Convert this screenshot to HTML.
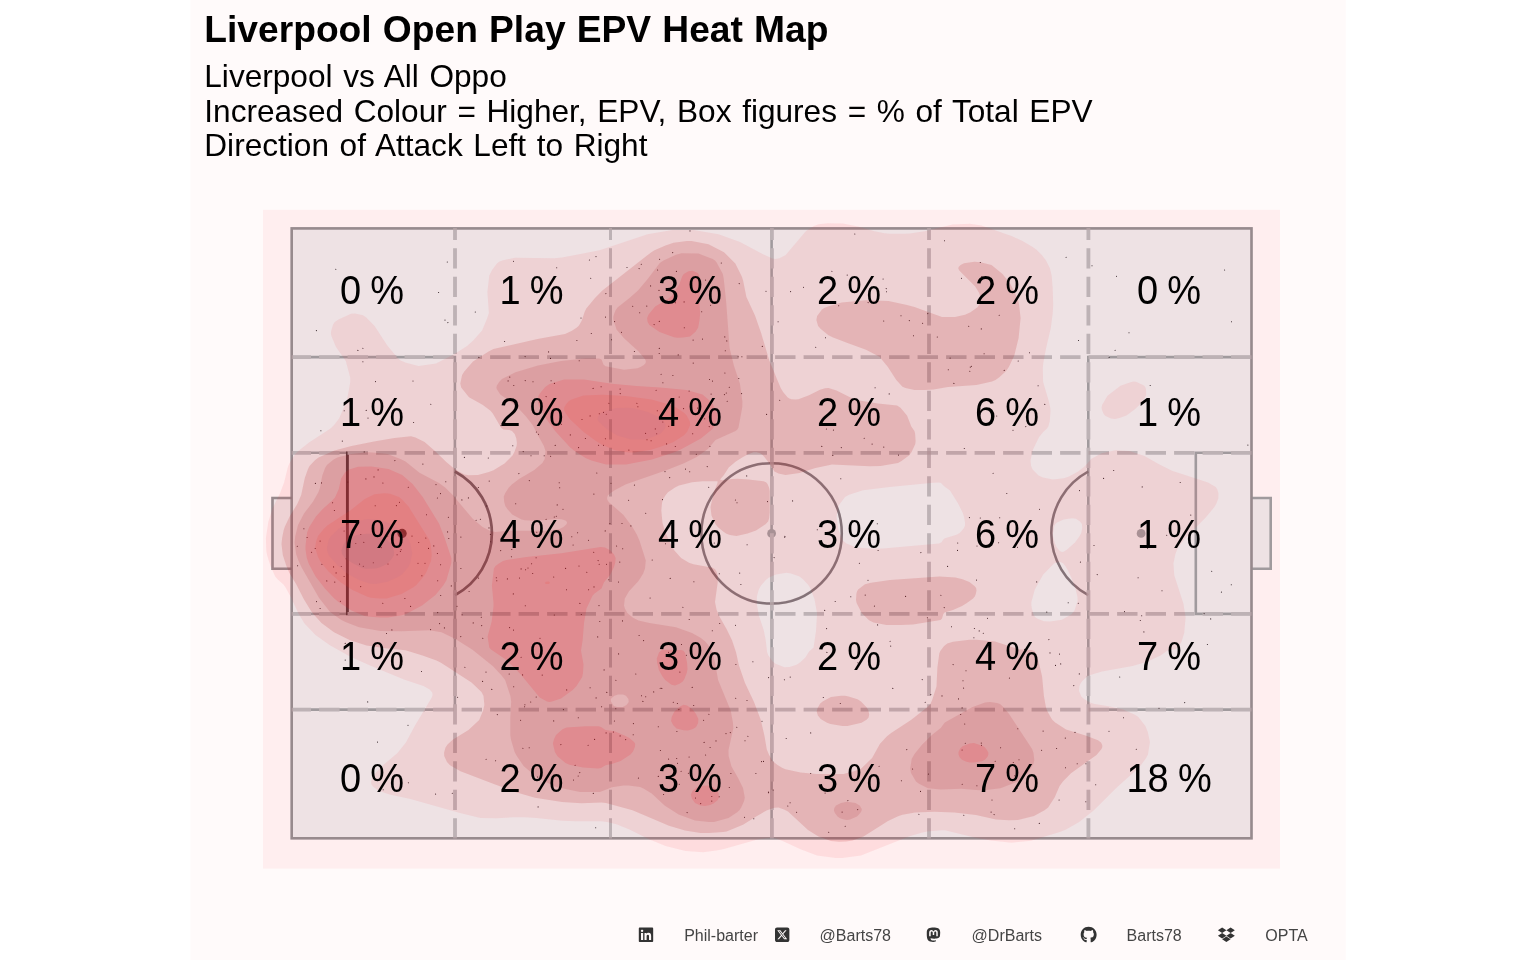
<!DOCTYPE html>
<html lang="en"><head><meta charset="utf-8"><title>Liverpool Open Play EPV Heat Map</title>
<style>html,body{margin:0;padding:0;background:#fff}body{width:1536px;height:960px;overflow:hidden}svg{display:block}text{font-family:"Liberation Sans",sans-serif}</style></head><body>
<svg width="1536" height="960" viewBox="0 0 1536 960">
<rect x="190.4" y="0" width="1155.3" height="960" fill="#fffafa"/>
<rect x="263" y="209.8" width="1017" height="658.8" fill="#ffeeef"/>
<rect x="291.7" y="228.4" width="959.8" height="609.9" fill="#eee2e4"/>
<rect x="272.5" y="498.0" width="19.2" height="70.7" fill="#eee2e4"/>
<rect x="1251.5" y="498.0" width="19.2" height="70.7" fill="#eee2e4"/>
<g fill="none" stroke="#a09a9d" stroke-width="2.6">
<rect x="291.7" y="228.4" width="959.8" height="609.9"/>
<path d="M291.7 498.0H272.5V568.7H291.7"/>
<path d="M1251.5 498.0H1270.7V568.7H1251.5"/>
<path d="M291.7 357.1H454.9V709.6H291.7"/>
<path d="M1251.5 357.1H1088.3V709.6H1251.5"/>
<path d="M1251.5 452.8H1195.8V613.9H1251.5"/>
<path d="M771.6 228.4V838.3"/>
</g>
<g fill="none" stroke="#7b6b71" stroke-width="2.7">
<circle cx="771.6" cy="533.4" r="70.2" stroke="#8a8085" stroke-width="2.5"/>
<path d="M454.9 471.5A70.2 70.2 0 0 1 454.9 595.2"/>
<path d="M1088.3 471.5A70.2 70.2 0 0 0 1088.3 595.2" stroke="#8a8085" stroke-width="2.5"/>
</g>
<path d="M291.7 452.8H347.4M347.4 613.9H291.7" fill="none" stroke="#a09a9d" stroke-width="2.6"/>
<path d="M347.4 451.5V615.2" fill="none" stroke="#463c40" stroke-width="2.9"/>
<circle cx="402.1" cy="533.4" r="4.6" fill="#463c40"/>
<circle cx="1141.1" cy="533.4" r="4.4" fill="#a09a9d"/>
<circle cx="771.6" cy="533.4" r="4.4" fill="#a09a9d"/>
<g fill="none" stroke="#cac5c7" stroke-width="3.8" stroke-dasharray="20.4 8.1">
<path d="M455.0 838.5999999999999V228.0"/>
<path d="M610.5 838.5999999999999V228.0" stroke-width="3"/>
<path d="M771.9 838.5999999999999V228.0"/>
<path d="M929.0 838.5999999999999V228.0"/>
<path d="M1088.4 838.5999999999999V228.0"/>
<path d="M1251.5 357.1H291.7"/>
<path d="M1251.5 452.8H291.7"/>
<path d="M1251.5 613.9H291.7"/>
<path d="M1251.5 709.6H291.7"/>
</g>
<path d="M657.6 270.0h0M489.0 527.9h0M557.2 504.9h0M690.0 230.9h0M1207.4 644.5h0M588.6 589.7h0M745.0 740.8h0M603.5 412.4h0M1059.1 800.0h0M1055.5 665.4h0M346.1 558.7h0M1085.8 801.7h0M513.5 630.1h0M507.4 578.9h0M1041.6 750.2h0M981.3 743.1h0M1066.1 257.2h0M639.1 268.6h0M315.2 548.5h0M701.7 311.7h0M408.4 782.8h0M693.1 340.1h0M515.7 503.8h0M773.2 790.0h0M974.4 628.5h0M735.4 500.0h0M524.6 706.8h0M590.1 687.7h0M730.9 773.5h0M826.4 429.0h0M578.2 776.0h0M635.8 674.0h0M447.3 262.0h0M1190.8 515.1h0M480.4 519.3h0M1147.6 548.3h0M922.2 679.6h0M1095.7 784.7h0M320.1 541.1h0M520.6 720.3h0M675.3 446.5h0M826.6 628.6h0M872.1 444.1h0M531.0 455.8h0M662.9 382.7h0M686.4 655.2h0M412.0 536.1h0M378.1 469.9h0M961.5 278.2h0M645.7 513.2h0M404.9 598.5h0M509.8 377.1h0M710.6 305.2h0M391.9 629.9h0M447.6 531.9h0M962.1 750.0h0M991.1 812.1h0M786.2 738.5h0M307.1 537.5h0M373.3 562.7h0M1204.1 613.6h0M995.2 761.3h0M345.2 660.1h0M365.9 478.9h0M447.9 322.6h0M1077.2 763.7h0M611.0 483.3h0M585.4 438.5h0M437.7 612.6h0M524.9 704.8h0M962.2 784.2h0M440.6 564.7h0M659.6 259.2h0M522.6 674.9h0M606.5 564.2h0M601.6 706.7h0M1065.5 767.8h0M360.7 586.6h0M763.5 761.4h0M425.8 538.0h0M1024.6 649.4h0M647.0 439.7h0M482.8 638.2h0M668.6 759.1h0M355.8 543.5h0M513.5 261.3h0M579.0 566.0h0M762.0 721.3h0M1038.1 385.7h0M540.0 638.2h0M724.9 373.0h0M598.6 445.2h0M1080.4 562.1h0M566.5 589.8h0M1060.7 663.9h0M673.3 702.3h0M588.5 540.3h0M684.3 327.7h0M1029.5 352.8h0M963.0 680.7h0M536.1 557.8h0M920.9 552.6h0M688.4 773.2h0M650.6 285.9h0M984.1 353.8h0M345.2 643.4h0M658.3 726.7h0M675.5 302.8h0M457.6 697.2h0M437.4 498.0h0M815.7 347.3h0M831.9 271.3h0M898.5 455.1h0M491.8 689.4h0M826.9 652.4h0M692.2 687.4h0M906.8 749.6h0M854.8 234.0h0M375.5 381.6h0M864.2 438.3h0M1018.2 361.0h0M656.7 433.8h0M315.4 483.4h0M408.0 725.2h0M703.6 720.2h0M490.7 541.8h0M942.0 695.9h0M960.7 714.5h0M326.8 580.9h0M790.6 291.6h0M316.4 330.6h0M878.1 550.5h0M650.1 598.0h0M581.3 614.5h0M542.2 675.1h0M1116.5 276.2h0M833.4 650.0h0M676.7 758.5h0M620.1 389.0h0M969.8 371.2h0M637.9 406.8h0M730.3 732.6h0M1017.5 547.3h0M668.7 426.3h0M692.7 433.8h0M712.3 767.1h0M475.3 312.0h0M382.8 603.3h0M1180.2 482.5h0M413.6 422.5h0M383.2 789.8h0M747.9 736.3h0M832.8 455.4h0M838.7 305.8h0M1247.9 445.1h0M418.7 542.5h0M992.0 800.0h0M596.1 697.9h0M784.7 537.2h0M1059.5 654.1h0M613.4 732.0h0M890.7 646.1h0M681.1 771.2h0M968.7 326.2h0M727.2 401.2h0M920.5 791.4h0M1085.9 763.8h0M661.8 688.4h0M604.1 669.9h0M560.9 744.6h0M652.2 560.0h0M554.3 517.0h0M561.4 424.3h0M944.2 607.6h0M529.3 480.6h0M508.1 380.9h0M687.1 812.6h0M778.1 321.7h0M399.5 502.2h0M593.9 494.1h0M726.0 733.6h0M709.9 446.2h0M655.3 428.9h0M957.5 550.4h0M1014.7 775.8h0M842.1 812.1h0M334.8 582.1h0M874.4 606.1h0M672.9 375.5h0M726.8 340.9h0M1141.7 615.8h0M970.3 367.1h0M653.7 691.9h0M341.3 566.5h0M651.1 440.8h0M428.5 548.4h0M342.3 441.1h0M682.9 607.2h0M551.1 380.8h0M445.0 320.1h0M375.2 505.7h0M665.5 543.7h0M662.8 422.0h0M1143.9 631.9h0M666.6 443.9h0M335.8 269.2h0M1231.5 321.8h0M586.8 572.3h0M999.7 517.8h0M1124.5 611.6h0M676.4 271.4h0M736.8 727.2h0M408.3 487.3h0M596.8 473.0h0M579.2 360.7h0M496.8 580.8h0M735.9 664.5h0M828.7 832.3h0M563.0 509.3h0M951.5 626.8h0M440.7 595.5h0M980.3 518.0h0M486.1 759.3h0M421.5 671.5h0M575.1 765.3h0M460.9 568.5h0M368.0 418.1h0M601.1 386.8h0M362.9 361.8h0M790.1 802.7h0M401.1 549.6h0M628.6 500.3h0M739.2 283.6h0M422.9 464.1h0M739.7 573.1h0M1068.2 602.8h0M796.6 812.3h0M659.3 348.4h0M519.5 578.0h0M521.1 657.3h0M521.1 568.9h0M320.1 608.5h0M993.1 473.3h0M561.7 537.8h0M683.6 408.6h0M554.3 615.0h0M596.0 256.6h0M738.1 356.8h0M344.2 410.7h0M695.5 798.0h0M999.2 315.2h0M685.5 469.1h0M535.9 764.4h0M963.8 815.3h0M482.6 681.4h0M724.4 394.6h0M565.6 568.4h0M966.0 670.8h0M439.6 623.6h0M1150.2 385.5h0M571.8 536.8h0M980.3 262.5h0M767.5 501.6h0M529.2 747.7h0M659.0 290.4h0M448.4 517.2h0M922.6 323.2h0M1079.5 490.6h0M503.7 767.8h0M606.3 414.3h0M709.2 426.6h0M452.3 793.3h0M486.8 505.9h0M669.7 477.6h0M643.6 640.6h0M433.8 545.9h0M689.7 471.7h0M504.6 341.5h0M500.7 550.6h0M573.1 545.0h0M913.5 335.8h0M367.7 701.9h0M979.2 630.9h0M762.3 346.4h0M930.8 694.6h0M766.0 291.3h0M359.6 564.1h0M616.6 546.0h0M553.7 577.0h0M620.1 735.9h0M615.8 708.7h0M1039.3 823.4h0M645.6 433.4h0M957.7 543.0h0M857.9 662.7h0M729.3 387.3h0M886.5 291.7h0M609.9 523.5h0M990.1 290.8h0M981.5 745.2h0M532.7 573.5h0M531.6 563.8h0M481.7 625.6h0M927.8 313.6h0M625.7 739.6h0M615.9 680.2h0M599.2 564.3h0M865.2 595.1h0M738.8 378.5h0M579.8 772.6h0M755.9 773.5h0M719.2 796.8h0M619.8 562.1h0M606.8 692.4h0M490.4 534.4h0M735.5 625.2h0M410.6 606.4h0M1113.7 470.5h0M622.7 548.7h0M950.1 358.1h0M377.5 742.1h0M659.2 353.5h0M603.5 445.3h0M965.3 743.3h0M1115.1 350.2h0M478.6 578.1h0M445.8 481.8h0M905.6 596.4h0M841.3 447.6h0M658.3 776.4h0M1159.0 708.2h0M530.7 702.0h0M976.5 580.1h0M618.5 582.0h0M641.5 695.7h0M709.5 379.5h0M679.2 397.0h0M998.6 542.8h0M605.9 293.6h0M1162.0 590.7h0M344.1 531.0h0M473.2 622.9h0M548.6 351.9h0M976.9 785.7h0M944.5 240.8h0M513.8 385.5h0M397.1 554.7h0M710.1 747.5h0M536.8 532.2h0M852.1 520.5h0M705.6 755.0h0M469.1 591.5h0M890.1 641.2h0M594.0 586.9h0M1079.3 673.9h0M670.2 578.4h0M868.1 302.6h0M488.3 458.0h0M511.8 549.5h0M725.3 350.7h0M513.7 686.7h0M696.3 454.3h0M581.0 318.0h0M996.7 416.0h0M639.1 635.5h0M909.3 320.6h0M1109.1 357.5h0M605.4 438.8h0M430.6 629.6h0M1009.4 678.1h0M360.8 534.5h0M536.4 432.0h0M525.1 356.6h0M833.4 430.1h0M645.7 696.7h0M660.2 688.3h0M707.2 466.6h0M642.9 701.4h0M460.9 537.1h0M578.3 717.8h0M875.1 387.7h0M768.6 792.8h0M719.3 573.8h0M678.9 709.6h0M437.4 553.5h0M711.1 394.1h0M333.6 566.9h0M719.7 623.5h0M981.3 328.9h0M464.9 667.3h0M605.2 530.9h0M546.1 519.2h0M438.6 292.5h0M512.8 445.8h0M421.9 575.7h0M630.9 525.9h0M316.5 601.6h0M1004.2 370.4h0M1017.8 728.7h0M689.1 391.1h0M701.9 415.5h0M1094.0 545.5h0M608.8 579.7h0M790.2 677.1h0M1221.4 592.1h0M638.4 778.1h0M741.6 393.6h0M457.0 606.3h0M591.3 333.5h0M753.8 818.8h0M525.6 569.7h0M595.7 827.7h0M349.4 522.0h0M563.4 709.6h0M937.3 337.0h0M559.7 487.8h0M656.1 390.2h0M892.8 688.4h0M578.6 447.6h0M737.0 502.8h0M468.4 497.9h0M689.1 757.0h0M364.2 451.9h0M1097.2 574.6h0M883.8 447.1h0M721.3 263.0h0M486.0 672.1h0M1017.2 788.2h0M382.9 483.0h0M1065.3 738.1h0M947.6 566.4h0M747.0 700.5h0M1211.7 571.3h0M363.3 566.3h0M550.6 456.2h0M704.7 418.7h0M634.4 485.1h0M1184.7 702.6h0M824.7 610.4h0M611.5 339.8h0M702.5 339.1h0M726.3 393.0h0M704.1 742.4h0M627.0 267.5h0M1039.5 509.3h0M662.5 499.6h0M823.3 697.5h0M1014.7 828.8h0M387.7 536.1h0M522.9 748.2h0M451.3 585.9h0M768.6 677.6h0M681.5 644.5h0M1073.8 685.6h0M741.9 356.8h0M879.1 766.3h0M518.9 473.6h0M953.9 383.4h0M590.1 415.9h0M1044.8 404.4h0M533.0 381.8h0M994.1 814.6h0M1142.2 486.9h0M1036.7 581.9h0M928.4 774.1h0M847.2 275.1h0M538.1 806.9h0M1210.7 618.9h0M713.7 775.4h0M413.0 381.0h0M940.9 595.3h0M724.8 336.9h0M761.5 761.6h0M708.9 714.3h0M344.1 576.5h0M1129.0 332.7h0M536.2 697.0h0M1138.1 577.8h0M633.4 723.6h0M460.8 636.6h0M714.3 543.0h0M594.6 739.4h0M693.9 581.7h0M646.8 306.1h0M840.3 703.5h0M394.9 460.6h0M1119.7 677.0h0M1043.1 731.1h0M901.0 315.8h0M476.1 520.3h0M660.4 750.5h0M787.8 806.0h0M559.2 482.7h0M1019.0 759.8h0M689.2 619.5h0M716.0 740.9h0M555.2 445.4h0M1166.7 535.3h0M886.2 288.6h0M400.4 551.4h0M525.2 380.6h0M1123.5 717.8h0M948.3 369.8h0M582.0 419.5h0M546.1 396.6h0M1103.6 478.4h0M332.6 502.8h0M374.0 476.9h0M779.7 400.3h0M825.5 337.7h0M774.1 557.6h0M297.3 546.2h0M850.8 596.8h0M711.8 796.5h0M618.6 653.9h0M550.5 358.4h0M478.4 487.5h0M554.4 383.4h0M303.9 528.8h0M444.4 627.9h0M821.8 446.4h0M693.7 705.5h0M590.7 278.2h0M810.7 773.5h0M436.0 484.6h0M679.3 784.2h0M993.1 284.4h0M497.3 714.6h0M448.8 538.5h0M659.3 321.4h0M1000.6 747.8h0M509.6 627.6h0M1136.3 749.2h0M593.1 388.4h0M712.5 381.1h0M336.1 572.9h0M1025.8 426.6h0M556.3 516.3h0M964.3 448.5h0M784.9 536.4h0M1006.8 493.5h0M430.8 404.3h0M599.0 605.6h0M1092.0 265.8h0M513.3 593.9h0M792.6 500.9h0M1013.0 791.8h0M311.6 552.2h0M877.3 523.8h0M390.9 528.5h0M537.5 777.0h0M963.6 688.1h0M340.4 601.2h0M663.6 794.5h0M1075.0 732.4h0M711.8 801.1h0M598.1 560.6h0M544.2 455.7h0M964.7 724.0h0M597.7 636.9h0M672.7 252.6h0M918.9 814.2h0M489.2 481.1h0M553.2 423.0h0M538.5 434.3h0M622.0 523.5h0M746.7 475.9h0M971.5 366.3h0M511.4 556.8h0M925.2 702.2h0M418.0 563.3h0M641.3 264.2h0M657.3 410.8h0M981.8 276.6h0M744.5 817.3h0M693.2 363.1h0M857.7 809.6h0M628.9 450.1h0M665.0 471.6h0M784.4 679.8h0M678.2 354.9h0M297.6 565.7h0M684.1 301.9h0M766.6 414.4h0M677.4 703.5h0M633.2 734.7h0M605.5 317.1h0M983.3 633.2h0M440.5 493.6h0M426.5 514.7h0M437.7 580.7h0M570.3 434.9h0M366.2 410.4h0M1078.3 603.2h0M768.4 792.0h0M588.1 745.2h0M541.2 281.5h0M481.3 617.2h0M987.5 618.2h0M362.9 348.2h0M435.6 794.1h0M363.8 542.4h0M599.3 413.8h0M901.4 780.7h0M679.9 672.1h0M700.7 803.6h0M962.1 707.9h0M632.7 306.2h0M1224.6 270.0h0M912.6 769.0h0M639.7 312.8h0M676.9 731.5h0M810.7 732.9h0M953.1 664.6h0M347.8 482.1h0M977.0 546.0h0M593.3 793.4h0M803.5 287.2h0M495.6 760.7h0M708.7 487.2h0M351.6 532.2h0M1140.3 620.5h0M661.1 374.2h0M868.0 580.2h0M705.6 280.1h0M712.3 630.7h0M883.7 321.0h0M1013.0 430.2h0M523.2 451.6h0M622.5 620.9h0M889.2 393.9h0M1056.6 748.5h0M740.9 584.5h0M697.5 408.1h0M579.9 603.4h0M464.4 457.4h0M883.1 279.0h0M1013.3 762.5h0M599.8 621.5h0M825.1 793.1h0M958.5 698.9h0M1009.9 279.0h0M357.9 350.4h0M576.9 340.5h0M614.6 321.6h0M1050.0 652.9h0M747.1 544.8h0M334.4 510.5h0M973.9 637.7h0M1109.0 731.2h0M729.3 787.5h0M388.0 564.0h0M969.4 517.6h0M608.9 403.3h0M877.6 624.9h0M677.5 763.2h0M321.5 482.9h0M577.6 532.7h0M320.9 430.7h0M461.9 499.9h0M1048.9 639.6h0M668.5 652.2h0M654.1 324.6h0M621.5 332.3h0M462.1 614.8h0M845.2 826.3h0M660.5 538.8h0M606.1 732.9h0M556.7 267.8h0M1046.8 612.1h0M478.9 357.4h0M501.0 425.6h0M566.7 689.9h0M509.2 674.0h0M847.9 800.6h0M927.4 617.8h0M396.4 505.6h0M528.0 568.0h0M859.4 563.3h0M525.3 605.7h0M817.3 529.7h0M553.7 720.9h0M636.9 403.3h0M386.5 633.5h0M496.3 577.8h0M1231.3 584.8h0M321.9 564.3h0M1078.5 340.5h0M752.9 661.7h0M573.5 780.0h0M634.4 351.5h0M840.8 478.7h0M589.4 260.0h0M620.2 393.6h0M425.0 563.3h0M735.7 698.3h0M381.4 547.6h0M835.2 601.5h0M614.4 721.0h0M593.7 552.2h0" stroke="#2a1c20" stroke-width="1.1" stroke-linecap="round" fill="none"/>
<defs><clipPath id="panelclip"><rect x="263" y="209.8" width="1017" height="658.8"/></clipPath></defs><g clip-path="url(#panelclip)">
<path fill="#f8424e" fill-opacity="0.1" fill-rule="evenodd" d="M842.5 858.0L835.5 858.1L817.0 855.6L800.5 849.2L781.5 840.4L775.0 838.0L771.5 837.4L757.5 839.4L724.0 848.9L716.5 850.4L703.0 852.3L685.5 851.0L665.5 845.9L648.5 839.1L629.5 829.4L616.5 824.2L607.0 821.9L601.5 821.3L576.0 821.2L562.5 820.7L536.5 817.9L525.0 817.3L513.5 817.3L497.0 818.2L480.5 817.9L460.0 813.0L410.5 798.9L389.5 794.5L378.5 790.7L373.0 786.5L371.5 784.5L371.1 782.5L371.6 779.0L373.0 775.8L383.5 764.8L397.5 753.0L405.9 742.5L415.3 725.0L431.8 697.5L432.6 695.0L432.2 692.5L429.7 689.5L423.5 685.9L404.0 679.4L369.5 665.2L350.0 656.5L329.5 645.0L315.5 635.0L304.5 623.6L298.2 613.0L291.1 597.5L285.3 587.0L283.4 584.5L277.5 579.3L275.2 576.5L270.5 566.0L267.2 555.5L266.3 551.0L265.9 538.0L268.3 522.0L272.3 509.0L280.1 493.0L284.1 482.5L287.9 467.0L289.3 463.5L294.9 454.5L298.0 451.2L309.0 442.5L330.5 428.4L334.1 425.0L339.1 418.5L347.0 400.0L350.2 382.5L350.2 377.5L345.8 361.0L336.0 346.9L331.2 335.5L330.9 333.0L331.4 330.0L333.1 324.5L334.8 322.0L338.5 319.6L351.0 313.7L355.0 313.5L363.0 315.2L366.2 317.5L374.6 326.0L387.3 345.5L397.7 358.0L400.5 360.6L406.0 362.7L418.5 366.0L436.0 363.5L454.5 354.1L467.1 346.0L473.2 340.5L482.1 330.5L487.1 318.5L488.9 313.0L487.4 292.0L489.3 275.5L492.1 270.0L496.5 264.0L499.0 261.8L503.0 260.3L515.0 257.8L554.5 258.2L562.0 257.6L599.5 250.3L647.5 234.3L672.5 229.9L693.5 229.9L718.5 234.3L740.0 242.0L763.0 254.3L772.5 258.5L775.5 259.1L779.5 258.2L785.7 255.0L806.0 231.1L814.0 225.9L818.5 224.3L827.5 223.2L843.0 223.4L858.0 226.5L874.5 231.3L884.5 233.2L889.5 233.7L904.5 233.7L910.0 233.5L924.5 231.2L952.5 224.6L970.0 223.8L981.5 225.4L1011.5 236.0L1022.5 241.0L1032.7 247.0L1036.5 249.8L1042.2 255.5L1046.0 260.6L1050.0 268.5L1051.7 276.0L1052.7 288.5L1053.2 305.0L1052.7 313.5L1050.7 328.5L1045.9 349.0L1043.2 363.5L1042.8 368.5L1043.1 382.0L1048.6 400.5L1050.2 407.5L1050.5 411.5L1049.7 421.5L1048.3 426.5L1047.0 428.5L1043.0 432.2L1039.1 437.0L1032.8 450.0L1030.5 460.5L1031.1 466.0L1032.6 469.5L1038.5 475.5L1043.0 477.4L1053.0 479.6L1064.0 478.3L1069.0 476.6L1078.2 471.5L1084.5 466.5L1091.5 458.8L1101.5 453.2L1115.5 450.3L1129.5 451.0L1144.5 456.1L1159.0 464.3L1172.0 470.7L1208.0 482.4L1215.7 487.0L1217.3 489.5L1218.5 493.5L1218.3 498.5L1216.4 503.5L1214.4 507.0L1205.5 517.7L1185.0 538.5L1177.7 548.0L1175.4 554.0L1173.4 563.5L1174.3 575.5L1183.4 603.5L1185.6 617.5L1184.2 633.0L1181.6 641.5L1179.1 646.0L1176.0 649.0L1167.5 650.5L1160.5 655.6L1147.0 661.7L1132.5 666.1L1102.0 671.5L1089.5 675.3L1086.5 677.0L1082.3 681.0L1080.5 683.5L1079.3 686.5L1079.0 691.0L1081.3 696.5L1084.0 699.1L1089.5 702.2L1093.5 703.7L1108.5 706.2L1123.0 709.5L1135.0 714.7L1138.3 717.0L1145.4 726.0L1147.8 732.0L1149.9 742.0L1148.0 754.5L1145.8 758.5L1139.1 767.5L1117.3 787.0L1093.6 810.5L1079.2 822.0L1066.0 829.5L1060.5 831.7L1031.0 840.7L1011.5 842.8L991.0 840.6L974.5 837.4L945.0 830.2L941.0 830.2L927.0 831.6L921.5 832.7L909.5 836.3L861.0 855.5ZM1115.0 419.0L1111.0 418.4L1105.5 416.0L1103.7 414.0L1102.0 410.0L1101.6 407.5L1102.1 405.0L1107.5 395.7L1120.5 385.8L1130.5 382.3L1133.5 381.6L1136.0 381.8L1144.0 385.5L1145.2 387.0L1146.0 389.0L1146.2 395.0L1144.7 398.0L1138.9 405.5L1135.5 408.7L1126.5 415.5L1119.5 418.1ZM883.2 548.5L939.0 543.4L941.5 542.3L943.5 539.3L945.0 538.2L956.5 534.8L959.7 533.0L963.5 528.7L964.9 526.0L965.1 523.0L964.1 517.0L962.8 513.0L957.8 503.0L950.0 490.5L944.5 486.5L941.0 483.0L939.0 482.6L933.0 482.8L889.5 486.9L863.0 490.3L849.0 494.8L845.0 496.9L838.7 505.5L836.5 516.5L838.4 530.0L843.0 540.7L846.5 543.6L856.0 547.5L873.0 548.7ZM1063.1 552.0L1066.5 550.0L1075.0 542.5L1079.0 537.1L1081.3 533.0L1082.2 528.0L1081.9 524.0L1080.0 521.4L1076.0 518.8L1072.0 518.3L1063.5 519.4L1057.0 522.6L1055.4 524.0L1054.3 526.0L1052.7 535.0L1054.9 543.5L1056.5 547.0L1059.0 550.2L1061.0 551.8ZM1050.1 621.5L1062.0 619.7L1071.5 614.2L1074.5 610.5L1077.6 601.0L1077.5 597.0L1075.2 587.5L1071.0 577.0L1068.0 570.4L1065.3 566.0L1063.0 563.2L1060.5 562.1L1057.0 562.3L1054.0 563.6L1043.2 574.5L1034.8 589.5L1031.4 602.0L1031.3 605.0L1031.9 608.5L1033.5 614.5L1035.0 617.0L1037.5 618.7L1044.0 621.2ZM789.5 667.0L796.5 664.7L800.0 662.4L805.4 657.5L809.1 651.5L813.6 647.5L816.0 631.0L817.1 613.5L814.5 599.3L810.4 588.5L808.4 585.0L802.7 579.0L799.5 576.5L791.0 573.5L786.5 572.8L776.0 574.5L768.5 577.8L765.5 580.2L760.7 586.0L758.6 590.0L756.9 596.5L756.8 604.0L759.0 616.0L763.7 630.0L765.7 640.0L767.1 652.0L768.1 655.0L772.5 661.2L775.5 663.7L784.5 667.3Z"/>
<path fill="#b71619" fill-opacity="0.16" fill-rule="evenodd" d="M846.0 841.5L839.0 841.7L831.0 841.0L818.5 836.4L808.0 830.1L788.0 811.6L784.0 809.4L778.5 807.4L774.5 807.7L767.0 810.3L757.0 815.9L743.0 824.7L726.5 831.4L723.0 832.1L709.0 833.1L700.5 833.0L685.0 830.4L669.0 825.7L632.5 810.2L606.0 802.9L601.5 802.4L581.5 803.3L562.0 802.1L535.0 797.8L515.0 792.0L492.5 783.5L460.5 771.2L450.0 765.3L447.0 762.1L444.2 756.0L444.1 752.5L445.5 747.5L447.5 744.6L453.0 739.6L468.5 729.9L479.2 720.0L483.1 710.5L484.4 705.0L483.5 696.0L481.5 691.9L471.5 682.5L441.0 662.8L436.5 660.5L422.5 655.4L405.5 650.2L385.5 648.3L366.5 645.5L349.5 640.0L334.0 632.2L321.5 623.1L312.0 612.5L304.0 599.5L296.1 584.0L289.4 573.0L286.4 566.0L282.8 555.0L281.5 544.0L282.2 537.5L283.7 530.0L284.9 526.5L289.9 516.0L297.3 504.0L301.2 495.0L304.8 478.0L308.0 469.0L309.5 466.1L315.0 460.3L318.5 457.4L334.5 450.5L351.5 446.0L374.0 441.6L394.5 438.1L411.0 436.3L415.5 437.4L424.6 442.0L435.5 451.4L446.0 461.7L452.5 467.2L457.5 470.7L464.5 474.4L468.5 475.2L478.0 475.0L488.9 472.0L493.5 470.2L504.5 463.4L512.5 455.4L514.4 452.0L516.6 446.0L516.9 443.0L516.3 438.5L514.7 434.0L512.0 431.0L509.5 430.0L503.5 429.4L501.3 428.0L492.8 413.5L490.5 410.7L482.5 404.8L469.0 397.2L461.2 387.5L460.3 383.5L462.1 375.0L464.3 371.5L473.0 361.6L488.6 351.5L493.5 349.1L537.5 339.0L565.0 333.9L571.5 330.9L576.9 327.5L579.0 325.5L581.8 320.5L584.8 311.5L586.3 308.5L595.0 297.9L602.4 290.5L651.0 252.4L654.5 250.3L665.5 245.5L673.5 242.7L687.0 240.9L691.5 240.9L708.5 244.3L724.0 252.2L735.3 263.5L741.8 276.5L743.1 280.5L746.4 297.0L755.0 315.5L761.1 333.0L769.3 360.5L780.7 388.0L783.1 392.0L787.5 397.2L789.3 398.5L791.5 399.2L795.5 399.6L798.5 399.3L809.0 395.3L820.0 389.8L825.0 388.3L828.5 388.0L836.5 390.5L852.5 398.6L856.5 400.1L878.0 403.5L897.0 405.5L900.5 407.7L907.0 415.5L911.3 426.5L914.4 431.0L915.1 433.5L915.6 441.0L915.3 444.0L911.6 452.0L909.0 455.6L901.5 461.0L898.0 462.9L880.5 466.0L869.5 466.2L832.0 464.4L815.5 468.1L799.5 473.0L785.5 475.1L778.5 473.4L774.4 471.5L769.8 464.0L764.4 457.0L762.1 454.5L760.0 453.2L756.5 452.2L753.5 452.3L748.0 454.3L743.0 457.0L735.8 461.5L728.7 467.5L723.9 475.0L720.5 479.0L720.3 480.0L723.5 480.3L732.0 478.9L737.5 478.8L748.5 479.4L763.5 481.2L766.0 482.2L767.5 483.9L769.0 487.5L769.7 491.0L769.7 512.5L769.1 518.5L768.1 521.5L765.5 524.2L756.0 530.5L747.5 533.4L736.5 536.1L730.0 535.0L726.5 533.7L723.5 531.8L718.0 527.3L715.4 524.0L711.5 515.5L710.5 507.0L713.8 492.5L717.5 483.0L717.5 481.3L702.5 481.3L692.0 482.3L679.0 485.6L675.0 487.5L668.0 492.3L665.5 495.2L662.9 499.5L662.0 503.0L661.3 510.5L662.5 523.0L665.4 532.5L670.9 544.5L674.4 550.5L681.1 558.0L689.0 562.7L693.5 564.3L712.5 567.8L715.0 569.3L716.7 572.0L717.6 575.5L717.7 582.5L715.0 602.0L716.6 610.0L719.4 616.5L726.8 629.5L732.1 640.5L736.1 652.5L738.8 665.0L745.0 683.0L754.0 702.0L760.8 720.0L764.4 735.5L766.8 749.5L768.9 754.5L772.5 761.0L777.5 765.0L782.5 768.1L785.5 769.3L800.5 772.5L816.5 774.1L843.5 774.1L854.0 771.2L861.0 768.7L872.1 758.0L880.0 743.7L887.0 736.3L891.5 732.8L911.0 720.0L927.5 707.0L930.4 704.0L932.2 700.0L936.5 686.5L937.4 667.5L939.3 653.5L940.3 651.0L944.1 646.0L947.3 643.5L953.0 641.8L969.5 639.8L976.5 639.8L995.0 641.5L1019.5 649.4L1031.5 649.9L1034.4 651.0L1036.0 653.5L1038.7 662.0L1042.1 676.5L1043.9 696.0L1046.0 707.5L1047.5 711.5L1052.0 719.4L1055.2 722.5L1066.0 729.4L1085.5 735.6L1098.0 740.3L1101.0 742.5L1102.2 745.0L1102.3 747.0L1101.5 748.9L1096.5 754.9L1071.0 773.2L1062.9 781.5L1059.6 786.0L1054.6 797.5L1048.1 807.5L1044.5 810.2L1034.0 816.0L1018.0 820.0L1009.0 820.2L996.0 819.5L976.0 815.0L954.5 812.4L934.5 811.8L915.0 812.6L902.5 814.8L898.0 816.3L888.0 821.0L863.5 836.4L852.5 840.6ZM924.5 390.0L914.5 390.0L905.5 388.0L902.5 386.7L896.3 380.0L887.9 367.0L879.5 356.8L866.0 349.7L847.5 343.1L832.5 337.2L828.5 335.2L820.8 329.0L818.1 326.0L816.4 320.0L817.1 316.0L822.0 309.4L824.2 308.0L828.0 306.6L841.6 302.5L866.0 300.2L888.5 301.0L907.0 304.9L914.5 306.9L942.0 317.1L955.0 317.1L965.0 314.7L970.5 312.3L977.5 307.3L980.4 303.0L980.7 298.0L979.2 293.0L975.2 286.5L959.3 270.5L958.3 268.5L958.6 267.0L960.6 265.0L964.0 263.2L974.5 261.8L980.5 262.2L991.5 265.1L1002.5 274.0L1010.1 283.5L1015.0 293.0L1018.0 300.0L1018.9 303.5L1020.6 318.0L1018.6 338.0L1014.3 355.5L1008.8 367.0L1006.1 371.0L999.0 377.5L995.5 380.1L992.0 381.4L976.5 385.0L948.0 386.9L933.5 389.4ZM900.5 625.0L886.5 625.0L873.5 622.5L869.0 620.2L861.7 613.0L856.6 603.0L856.0 600.0L856.4 594.0L857.0 591.5L858.1 589.5L865.0 584.3L871.0 582.7L890.0 579.9L939.5 576.5L955.5 577.5L962.5 579.3L969.4 582.0L974.5 586.0L976.1 588.0L976.5 590.5L975.8 594.0L974.8 596.5L973.1 598.5L966.5 603.3L962.0 605.9L953.0 610.0L944.5 612.5L943.3 614.0L942.0 618.5L940.5 619.9L913.0 624.4ZM847.5 726.0L842.5 726.0L830.5 724.1L827.0 722.7L820.7 719.0L817.9 715.5L816.7 711.5L817.4 708.5L820.2 703.5L823.0 701.2L831.0 697.1L841.0 695.8L845.0 695.8L848.5 696.5L857.5 699.3L861.0 701.4L866.5 707.3L868.3 710.0L869.2 714.5L868.6 717.5L866.5 719.7L861.5 722.7Z"/>
<path fill="#b42629" fill-opacity="0.14" fill-rule="evenodd" d="M714.0 822.0L709.0 822.1L695.0 820.5L678.6 814.5L664.6 805.5L651.7 793.5L643.5 788.4L640.0 787.0L628.5 785.4L623.5 785.4L612.0 787.2L600.0 792.1L580.0 792.1L556.0 786.9L537.0 777.6L523.6 766.0L516.8 756.0L514.6 752.0L511.1 740.0L510.3 735.5L510.3 717.5L511.2 701.5L510.4 696.0L505.1 680.0L501.6 675.5L493.0 666.3L472.5 649.8L455.0 638.7L441.5 632.2L429.5 630.3L401.5 631.2L380.5 631.0L359.0 627.3L345.5 622.0L341.0 619.7L330.1 612.0L319.1 598.0L301.9 568.0L298.4 560.5L296.1 554.0L294.6 542.5L295.2 536.5L298.0 525.0L304.0 513.6L313.1 501.5L318.5 492.0L319.9 488.0L322.3 475.5L325.1 468.0L326.9 465.0L333.6 459.5L338.0 457.2L351.5 454.0L367.0 452.3L372.5 452.4L387.5 454.1L401.0 459.2L405.5 461.6L419.5 472.7L439.0 482.9L445.1 487.5L452.5 494.8L472.5 518.6L482.5 527.0L491.0 531.2L495.5 532.1L508.0 530.8L547.5 530.7L559.5 528.9L563.5 527.1L566.7 524.0L567.0 522.0L565.5 520.5L561.5 519.2L557.5 518.9L535.5 520.8L525.0 520.2L521.5 519.5L512.2 514.5L507.7 509.5L505.3 506.0L504.1 501.5L503.8 496.5L505.0 493.5L508.5 488.0L511.5 484.7L519.0 478.9L534.3 470.0L542.4 463.0L544.7 459.0L545.5 451.0L543.9 446.0L536.4 432.5L533.0 425.4L526.0 416.4L516.5 406.3L500.3 394.5L496.7 389.0L496.4 387.5L496.9 385.5L499.5 381.5L502.0 379.1L515.5 372.3L538.0 365.4L561.0 360.9L585.0 358.4L599.0 358.4L601.6 359.5L603.4 364.5L605.5 366.3L624.0 369.7L637.5 368.2L640.5 367.1L643.5 365.2L645.3 363.5L645.9 362.0L645.7 360.5L644.5 358.5L638.6 351.5L624.0 338.2L616.5 329.5L613.4 319.5L613.3 317.0L614.1 314.0L615.7 310.0L617.5 307.4L629.5 298.1L638.0 290.5L647.7 279.0L659.8 263.0L663.5 260.6L676.0 254.7L681.5 253.3L698.5 253.6L712.7 259.0L715.0 260.5L716.5 262.3L722.8 274.0L723.7 278.5L726.1 301.0L729.6 348.0L734.0 366.0L739.9 383.5L742.4 401.5L742.3 407.0L738.5 427.4L737.4 429.5L735.5 431.0L715.5 440.0L707.9 449.0L696.7 457.0L684.0 463.3L667.0 470.1L626.0 484.2L615.5 489.7L610.5 493.0L607.8 495.5L607.0 498.0L607.4 500.0L608.7 502.0L623.5 515.0L632.7 527.5L636.8 534.5L639.6 541.0L645.8 560.5L645.0 568.5L643.2 573.5L638.5 581.0L629.0 591.2L624.8 598.5L624.0 605.5L624.9 608.5L627.0 612.4L629.0 614.6L633.0 617.7L638.5 620.5L649.5 623.1L676.0 627.3L692.0 633.0L700.5 637.7L704.7 641.0L708.3 645.0L712.6 653.0L715.0 662.5L718.1 680.0L730.7 710.5L733.0 723.0L733.3 728.5L728.5 750.0L728.6 756.0L731.5 766.5L737.8 777.5L743.0 788.0L744.8 797.5L744.1 801.0L741.2 807.5L739.6 810.0L737.5 811.9L728.5 818.0ZM622.8 707.0L626.5 705.1L628.7 702.0L628.4 699.0L626.0 695.7L623.0 694.4L618.0 694.5L614.5 695.7L611.6 698.0L610.8 699.5L611.0 701.5L613.8 706.0L617.0 707.1ZM986.0 790.0L979.0 790.2L961.5 788.8L940.5 789.4L928.0 788.3L919.0 783.8L916.0 781.5L911.0 773.0L910.2 768.5L911.7 759.0L914.5 754.0L922.0 744.8L931.9 735.0L940.7 728.0L944.8 722.5L972.0 707.3L985.0 702.6L990.0 701.9L997.0 703.0L1000.0 704.0L1002.5 706.2L1008.7 713.5L1032.1 749.0L1033.5 753.0L1034.3 760.5L1033.2 764.5L1027.8 773.0L1016.6 782.0L1000.5 788.2ZM850.0 819.5L847.0 820.0L844.0 819.5L840.0 818.2L837.5 816.5L834.9 813.0L833.9 810.5L834.3 808.0L836.0 805.5L841.0 802.9L847.0 801.8L855.5 803.0L859.7 805.5L861.8 809.0L861.5 811.0L860.3 813.0L857.0 816.4Z"/>
<path fill="#fe0618" fill-opacity="0.13" fill-rule="evenodd" d="M683.0 337.5L677.5 337.7L674.0 337.3L659.5 332.1L649.4 325.0L647.6 322.0L647.1 318.0L648.6 314.5L655.2 306.5L669.0 298.2L672.1 295.5L679.2 284.5L682.4 276.0L683.8 274.0L688.5 271.2L692.5 270.7L697.7 273.0L698.8 274.5L699.5 277.0L700.2 285.5L699.3 300.5L700.1 314.0L699.5 320.0L698.2 327.5L695.5 331.7L690.0 336.5ZM626.0 464.5L606.0 464.6L591.5 460.6L585.5 458.0L574.0 450.5L570.0 447.2L555.1 431.0L545.3 417.5L538.8 405.5L537.8 401.0L538.4 396.0L540.0 393.3L545.2 387.0L549.5 384.1L564.0 379.6L584.0 379.5L612.0 383.7L636.5 386.1L660.0 387.4L686.5 390.1L702.5 394.6L709.5 400.4L712.8 404.0L717.4 414.0L717.6 416.5L716.8 419.5L714.1 426.5L712.5 429.1L700.9 438.5L680.7 449.5L675.0 451.9L652.0 459.5ZM388.0 617.5L380.0 617.6L368.0 616.6L364.5 615.9L351.5 610.4L337.5 601.2L333.5 597.7L324.9 588.5L315.6 576.5L308.9 564.0L306.8 558.0L305.5 549.5L305.5 546.0L307.1 532.5L309.3 527.0L315.9 516.5L323.0 508.8L332.5 500.3L335.0 497.5L338.8 489.0L341.1 478.5L345.0 472.5L348.5 469.7L358.0 466.7L371.5 466.4L388.5 469.0L402.2 475.0L412.6 484.0L422.7 497.0L439.0 523.5L444.5 537.5L451.5 558.5L451.3 563.0L446.3 580.5L443.2 585.5L435.5 594.9L422.0 605.6L407.0 613.6L402.0 615.3ZM552.0 701.6L549.5 701.9L547.0 701.5L539.7 697.5L521.0 674.7L515.7 669.0L505.0 659.0L491.0 649.6L489.3 647.5L487.6 636.5L491.7 621.5L493.5 606.5L493.5 602.5L491.9 585.5L493.9 568.5L495.5 566.0L498.5 563.8L503.0 561.0L506.5 560.0L526.5 556.9L561.5 553.3L600.5 546.9L605.0 547.4L610.5 550.4L614.0 554.4L615.6 558.0L615.3 562.5L614.0 567.0L610.0 575.0L604.0 582.2L601.5 588.5L594.5 593.6L592.5 595.7L586.5 608.5L584.0 623.0L582.6 640.5L581.0 650.5L583.5 664.5L583.0 673.0L582.2 677.0L576.5 685.9L572.7 690.0L561.0 698.5ZM675.0 685.6L671.5 684.7L665.2 680.0L662.5 676.5L658.9 670.0L657.0 662.0L656.8 658.5L659.0 652.5L661.5 650.2L665.0 649.8L681.0 649.9L683.5 650.8L685.1 653.0L687.1 663.0L687.5 669.0L686.9 672.5L684.4 679.0L682.8 681.5L679.5 683.8ZM688.0 730.5L683.5 730.3L676.5 728.6L673.1 725.0L671.1 721.0L671.7 717.0L674.4 711.5L680.5 706.2L683.5 704.7L687.0 705.5L692.7 709.5L696.0 714.1L698.4 719.0L698.1 723.0L696.1 727.0L693.0 728.9ZM601.0 768.0L598.0 768.4L583.0 767.4L569.5 764.8L565.5 762.9L557.5 756.3L554.9 752.0L552.9 743.5L553.9 739.5L556.0 735.0L562.5 729.3L566.5 727.5L586.0 726.3L598.5 726.3L601.0 726.9L605.5 729.9L614.5 731.3L624.5 735.4L629.0 737.8L634.1 742.0L635.2 744.0L634.9 747.0L633.0 751.6L630.5 754.5L620.6 761.0L612.5 763.7L605.5 765.3ZM973.5 762.5L970.0 762.6L966.5 761.7L962.0 759.7L959.8 757.5L958.5 754.5L958.5 752.0L960.2 748.5L962.5 746.2L969.5 743.5L974.0 743.1L983.0 745.9L985.0 747.5L986.9 750.0L988.3 752.5L988.4 754.5L987.5 756.7L985.2 759.5L982.0 761.2ZM705.0 806.0L700.5 805.5L695.0 803.1L691.9 798.5L690.8 794.5L692.6 791.0L696.5 787.5L703.5 785.8L708.0 785.5L713.5 787.5L716.6 789.5L718.5 793.0L719.0 797.5L717.5 800.2L713.5 803.5L710.1 805.0Z"/>
<path fill="#ff3025" fill-opacity="0.12" fill-rule="evenodd" d="M634.5 452.6L629.0 452.6L615.0 450.3L601.5 444.5L596.0 441.1L584.0 432.2L570.2 419.5L565.2 412.5L564.1 410.0L564.2 407.5L566.3 404.0L568.5 401.4L571.0 399.8L583.5 395.5L603.0 394.7L625.5 395.9L651.5 399.5L670.0 404.7L673.5 406.1L678.3 409.0L684.0 412.7L686.5 415.2L689.8 421.5L690.2 425.0L687.0 432.0L683.7 435.5L673.0 442.2L659.0 447.2L651.0 449.7ZM386.5 598.5L380.0 598.6L371.0 597.7L367.5 596.8L352.5 590.0L340.5 582.2L328.5 571.6L320.7 562.0L318.0 557.0L315.1 547.5L316.1 541.5L318.0 536.1L323.7 529.0L327.3 525.5L350.3 510.5L364.8 499.0L374.5 494.2L384.5 493.3L390.0 493.8L399.0 497.0L402.0 499.4L408.5 506.6L429.4 540.0L430.7 544.5L431.7 554.5L431.0 561.0L426.2 572.5L423.6 576.5L416.4 585.0L413.0 587.6L401.5 594.1ZM548.5 584.0L546.0 584.1L544.7 583.0L546.0 581.8L548.8 581.5L549.9 582.5L549.5 583.5Z"/>
<path fill="#b16895" fill-opacity="0.12" fill-rule="evenodd" d="M646.0 439.5L631.0 439.5L617.2 435.5L607.0 429.3L599.5 422.6L597.5 419.9L597.7 417.0L601.0 412.8L605.5 410.8L616.0 408.0L628.5 407.8L633.5 408.3L648.0 411.9L661.5 418.6L663.7 421.0L665.5 425.0L665.3 427.5L663.9 430.0L661.5 432.8L659.0 434.6ZM375.5 584.1L370.5 583.7L360.0 580.5L347.9 574.0L344.5 571.6L337.0 564.7L329.3 556.0L327.6 552.5L326.8 548.5L328.4 540.5L331.0 535.9L338.5 528.8L349.5 523.4L353.5 522.0L367.5 518.9L375.0 519.4L385.5 521.4L397.0 527.5L401.0 530.6L408.5 539.3L410.5 544.0L412.3 553.5L410.2 563.0L408.0 567.4L402.0 574.4L398.0 577.1L387.5 581.8Z"/>
<path fill="#846575" fill-opacity="0.12" fill-rule="evenodd" d="M376.0 568.6L366.0 568.7L362.0 567.9L351.5 562.5L344.4 557.5L342.0 554.0L341.4 550.5L343.3 545.0L345.7 541.0L348.5 538.9L356.5 534.9L367.0 533.8L371.5 533.8L375.0 534.5L383.2 537.0L386.4 539.0L391.0 544.0L392.9 547.0L394.1 552.0L393.8 555.5L391.6 559.0L387.5 563.7L380.0 567.3Z"/>
</g>
<g fill="none" stroke="#5a1e28" stroke-opacity="0.11" stroke-width="3.8" stroke-dasharray="20.4 8.1">
<path d="M455.0 838.5999999999999V228.0"/>
<path d="M610.5 838.5999999999999V228.0" stroke-width="3"/>
<path d="M771.9 838.5999999999999V228.0"/>
<path d="M929.0 838.5999999999999V228.0"/>
<path d="M1088.4 838.5999999999999V228.0"/>
<path d="M1251.5 357.1H291.7"/>
<path d="M1251.5 452.8H291.7"/>
<path d="M1251.5 613.9H291.7"/>
<path d="M1251.5 709.6H291.7"/>
</g>
<g fill="none" stroke="#5a1e28" stroke-opacity="0.13" stroke-width="2.6">
<rect x="291.7" y="228.4" width="959.8" height="609.9"/>
<path d="M291.7 498.0H272.5V568.7H291.7"/>
<circle cx="771.6" cy="533.4" r="70.2"/>
<path d="M454.9 471.5A70.2 70.2 0 0 1 454.9 595.2"/>
<path d="M1088.3 471.5A70.2 70.2 0 0 0 1088.3 595.2"/>
</g>
<g font-size="39" fill="#000" text-anchor="middle" word-spacing="-1.4">
<text transform="translate(372.1 304.2) scale(.975 1.06)">0 %</text>
<text transform="translate(531.6 304.2) scale(.975 1.06)">1 %</text>
<text transform="translate(690.1 304.2) scale(.975 1.06)">3 %</text>
<text transform="translate(849.1 304.2) scale(.975 1.06)">2 %</text>
<text transform="translate(1007.1 304.2) scale(.975 1.06)">2 %</text>
<text transform="translate(1169.1 304.2) scale(.975 1.06)">0 %</text>
<text transform="translate(372.1 426.2) scale(.975 1.06)">1 %</text>
<text transform="translate(531.6 426.2) scale(.975 1.06)">2 %</text>
<text transform="translate(690.1 426.2) scale(.975 1.06)">4 %</text>
<text transform="translate(849.1 426.2) scale(.975 1.06)">2 %</text>
<text transform="translate(1007.1 426.2) scale(.975 1.06)">6 %</text>
<text transform="translate(1169.1 426.2) scale(.975 1.06)">1 %</text>
<text transform="translate(372.1 548.2) scale(.975 1.06)">7 %</text>
<text transform="translate(531.6 548.2) scale(.975 1.06)">4 %</text>
<text transform="translate(690.1 548.2) scale(.975 1.06)">4 %</text>
<text transform="translate(849.1 548.2) scale(.975 1.06)">3 %</text>
<text transform="translate(1007.1 548.2) scale(.975 1.06)">6 %</text>
<text transform="translate(1169.1 548.2) scale(.975 1.06)">1 %</text>
<text transform="translate(372.1 670.2) scale(.975 1.06)">1 %</text>
<text transform="translate(531.6 670.2) scale(.975 1.06)">2 %</text>
<text transform="translate(690.1 670.2) scale(.975 1.06)">3 %</text>
<text transform="translate(849.1 670.2) scale(.975 1.06)">2 %</text>
<text transform="translate(1007.1 670.2) scale(.975 1.06)">4 %</text>
<text transform="translate(1169.1 670.2) scale(.975 1.06)">7 %</text>
<text transform="translate(372.1 792.2) scale(.975 1.06)">0 %</text>
<text transform="translate(531.6 792.2) scale(.975 1.06)">2 %</text>
<text transform="translate(690.1 792.2) scale(.975 1.06)">3 %</text>
<text transform="translate(849.1 792.2) scale(.975 1.06)">3 %</text>
<text transform="translate(1007.1 792.2) scale(.975 1.06)">7 %</text>
<text transform="translate(1169.1 792.2) scale(.975 1.06)">18 %</text>
</g>
<text x="204.3" y="42" font-size="37.2" font-weight="700" fill="#000" word-spacing="0.85">Liverpool Open Play EPV Heat Map</text>
<g font-size="31.6" fill="#000" word-spacing="1.88">
<text x="204.3" y="86.8">Liverpool vs All Oppo</text>
<text x="204.3" y="121.6">Increased Colour = Higher, EPV, Box figures = % of Total EPV</text>
<text x="204.3" y="155.8">Direction of Attack Left to Right</text>
</g>
<g font-size="16" fill="#444">
<text x="684.2" y="941">Phil-barter</text>
<text x="819.6" y="941">@Barts78</text>
<text x="971.6" y="941">@DrBarts</text>
<text x="1126.6" y="941">Barts78</text>
<text x="1265.3" y="941">OPTA</text>
</g>
<g fill="#333">
<path transform="translate(638.8 926.55) scale(0.0321)" d="M416 32H31.9C14.3 32 0 46.5 0 64.3v383.4C0 465.5 14.3 480 31.9 480H416c17.6 0 32-14.5 32-32.3V64.3c0-17.8-14.4-32.3-32-32.3zM135.4 416H69V202.2h66.5V416zm-33.2-243c-21.3 0-38.5-17.3-38.5-38.5S80.9 96 102.2 96c21.2 0 38.5 17.3 38.5 38.5 0 21.3-17.2 38.5-38.5 38.5zm282.1 243h-66.4V312c0-24.8-.5-56.7-34.5-56.7-34.6 0-39.9 27-39.9 54.9V416h-66.4V202.2h63.7v29.2h.9c8.9-16.8 30.6-34.5 62.9-34.5 67.2 0 79.7 44.3 79.7 101.9V416z"/>
<path transform="translate(775.0 926.55) scale(0.0321)" d="M64 32C28.7 32 0 60.7 0 96V416c0 35.3 28.7 64 64 64H384c35.3 0 64-28.7 64-64V96c0-35.3-28.7-64-64-64H64zm297.1 84L257.3 234.6 379.4 396H283.8L209 298.1 123.3 396H75.8l111-126.9L69.7 116h98l67.7 89.5L313.6 116h47.5zM323.3 367.6L153.4 142.9H125.1L296.9 367.6h26.3z"/>
<path transform="translate(926.3 926.55) scale(0.0321)" d="M433 179.11c0-97.2-63.71-125.7-63.71-125.7-62.52-28.7-228.56-28.4-290.48 0 0 0-63.72 28.5-63.72 125.7 0 115.7-6.6 259.4 105.63 289.1 40.51 10.7 75.32 13 103.33 11.4 50.81-2.8 79.32-18.1 79.32-18.1l-1.7-36.9s-36.31 11.4-77.12 10.1c-40.41-1.4-83-4.4-89.63-54a102.54 102.54 0 0 1-.9-13.9c85.63 20.9 158.65 9.1 178.75 6.7 56.12-6.7 105-41.3 111.23-72.9 9.8-49.8 9-121.5 9-121.5zm-75.12 125.2h-46.63v-114.2c0-49.7-64-51.6-64 6.9v62.5h-46.33V197c0-58.5-64-56.6-64-6.9v114.2H90.19c0-122.1-5.2-147.9 18.41-175 25.9-28.9 79.82-30.8 103.83 6.1l11.6 19.5 11.6-19.5c24.11-37.1 78.12-34.8 103.83-6.1 23.71 27.3 18.4 53 18.4 175z"/>
<path transform="translate(1080.7 926.55) scale(0.0321)" d="M165.9 397.4c0 2-2.3 3.6-5.2 3.6-3.3.3-5.6-1.3-5.6-3.6 0-2 2.3-3.6 5.2-3.6 3-.3 5.6 1.3 5.6 3.6zm-31.1-4.5c-.7 2 1.3 4.3 4.3 4.9 2.6 1 5.6 0 6.2-2s-1.3-4.3-4.3-5.2c-2.6-.7-5.5.3-6.2 2.3zm44.2-1.7c-2.9.7-4.9 2.6-4.6 4.9.3 2 2.9 3.3 5.9 2.6 2.9-.7 4.9-2.6 4.6-4.6-.3-1.9-3-3.2-5.9-2.9zM244.8 8C106.1 8 0 113.3 0 252c0 110.9 69.8 205.8 169.5 239.2 12.8 2.3 17.3-5.6 17.3-12.1 0-6.2-.3-40.4-.3-61.4 0 0-70 15-84.7-29.8 0 0-11.4-29.1-27.8-36.6 0 0-22.9-15.7 1.6-15.4 0 0 24.9 2 38.6 25.8 21.9 38.6 58.6 27.5 72.9 20.9 2.3-16 8.8-27.1 16-33.7-55.9-6.2-112.3-14.3-112.3-110.5 0-27.5 7.6-41.3 23.6-58.9-2.6-6.5-11.1-33.3 2.6-67.9 20.9-6.5 69 27 69 27 20-5.6 41.5-8.5 62.8-8.5s42.8 2.9 62.8 8.5c0 0 48.1-33.6 69-27 13.7 34.7 5.2 61.4 2.6 67.9 16 17.7 25.8 31.5 25.8 58.9 0 96.5-58.9 104.2-114.8 110.5 9.2 7.9 17 22.9 17 46.4 0 33.7-.3 75.4-.3 83.6 0 6.5 4.6 14.4 17.3 12.1C428.2 457.8 496 362.9 496 252 496 113.3 383.5 8 244.8 8zM97.2 352.9c-1.3 1-1 3.3.7 5.2 1.6 1.6 3.9 2.3 5.2 1 1.3-1 1-3.3-.7-5.2-1.6-1.6-3.9-2.3-5.2-1zm-10.8-8.1c-.7 1.3.3 2.9 2.3 3.9 1.6 1 3.6.7 4.3-.7.7-1.3-.3-2.9-2.3-3.9-2-.6-3.6-.3-4.3.7zm32.4 35.6c-1.6 1.3-1 4.3 1.3 6.2 2.3 2.3 5.2 2.6 6.5 1 1.3-1.3.7-4.3-1.3-6.2-2.2-2.3-5.2-2.6-6.5-1zm-11.4-14.7c-1.6 1-1.6 3.6 0 5.9 1.6 2.3 4.3 3.3 5.6 2.3 1.6-1.3 1.6-3.9 0-6.2-1.4-2.3-4-3.3-5.6-2z"/>
<path transform="translate(1217.9 926.55) scale(0.0321)" d="M264.4 116.3l-132 84.3 132 84.3-132 84.3L0 284.1l132.3-84.3L0 116.3 132.3 32l132.1 84.3zM131.6 395.7l132-84.3 132 84.3-132 84.3-132-84.3zm132.8-111.6l132-84.3-132-83.6L395.7 32 528 116.3l-132.3 84.3L528 284.8l-132.3 84.3-131.3-85z"/>
</g>
</svg></body></html>
